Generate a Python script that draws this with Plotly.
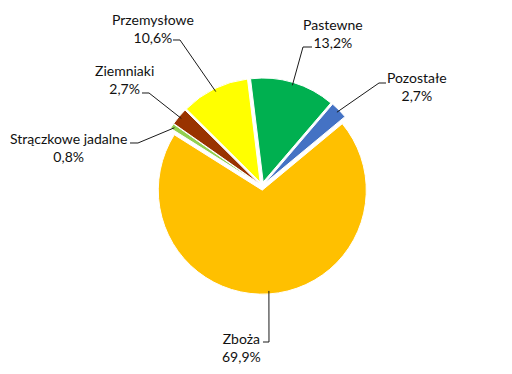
import math
import plotly.graph_objects as go

# ---- data ----
categories = ["Pastewne", "Pozostałe", "Zboża", "Strączkowe jadalne", "Ziemniaki", "Przemysłowe"]
shares = [13.2, 2.7, 69.9, 0.8, 2.7, 10.6]
colors = ["#00B050", "#4472C4", "#FFC000", "#92D050", "#993300", "#FFFF00"]

# ---- layout constants (pixels) ----
W, H = 512, 374
CX, CY = 262, 186          # pie centre
R = 104                     # pie radius
PULL = 0.04
ROT = -7                    # start angle (deg, clockwise from 12 o'clock)
RD = R * (1 + PULL)         # domain half-size

# label centre positions (px) and leader elbow / end points (px)
label_pos = {
    "Pastewne": (333, 33.5),
    "Pozostałe": (417, 86),
    "Zboża": (241, 347),
    "Strączkowe jadalne": (68, 147.5),
    "Ziemniaki": (124, 80),
    "Przemysłowe": (153, 28.5),
}
leader = {
    "Pastewne": [(303, 47), (312, 47)],
    "Pozostałe": [(379, 83), (386, 83)],
    "Zboża": [(269, 342), (263, 342)],
    "Strączkowe jadalne": [(138, 143), (130, 143)],
    "Ziemniaki": [(149, 93), (142, 93)],
    "Przemysłowe": [(180, 40), (173, 40)],
}

def px(x, y):
    return x / W, 1 - y / H

fig = go.Figure(go.Pie(
    labels=categories,
    values=shares,
    marker=dict(colors=colors, line=dict(color="white", width=1)),
    sort=False,
    direction="clockwise",
    rotation=ROT,
    pull=[PULL] * len(shares),
    textinfo="none",
    hoverinfo="label+percent",
    showlegend=False,
    domain=dict(x=[(CX - RD) / W, (CX + RD) / W], y=[1 - (CY + RD) / H, 1 - (CY - RD) / H]),
))

total = sum(shares)
ang = ROT
annotations, shapes = [], []
for cat, v in zip(categories, shares):
    span = v / total * 360
    mid = math.radians(ang + span / 2)
    ang += span
    sx, sy = math.sin(mid), -math.cos(mid)
    ax = CX + PULL * R * sx + (R - 3) * sx
    ay = CY + PULL * R * sy + (R - 3) * sy
    pts = [(ax, ay)] + leader[cat]
    path = "M " + " L ".join(f"{px(x, y)[0]:.5f},{px(x, y)[1]:.5f}" for x, y in pts)
    shapes.append(dict(type="path", xref="paper", yref="paper", path=path,
                       line=dict(color="#1a1a1a", width=1)))
    lx, ly = px(*label_pos[cat])
    pct = f"{v:.1f}".replace(".", ",") + "%"
    annotations.append(dict(x=lx, y=ly, xref="paper", yref="paper", showarrow=False,
                            text=f"{cat}<br>{pct}", align="center",
                            xanchor="center", yanchor="middle",
                            font=dict(family="Lato", size=14, color="#111111")))

fig.update_layout(
    width=W, height=H,
    margin=dict(l=0, r=0, t=0, b=0),
    paper_bgcolor="white", plot_bgcolor="white",
    annotations=annotations, shapes=shapes,
)
fig.write_html("out.html")
